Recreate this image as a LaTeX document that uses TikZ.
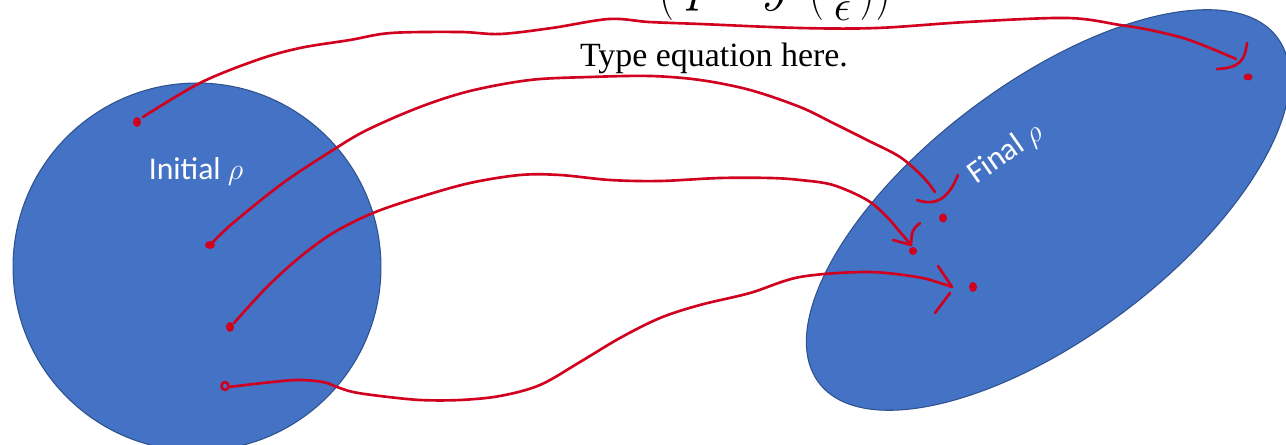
\documentclass[tikz,border=0pt]{standalone}
\usepackage{fontspec}
\newfontfamily\calibri{Carlito}
\newfontfamily\cambria{Liberation Serif}
\usetikzlibrary{shapes.geometric}

\definecolor{slideblue}{HTML}{4472C4}
\definecolor{slideedge}{HTML}{2F528F}
\definecolor{inkred}{RGB}{208,0,30}

\begin{document}
\begin{tikzpicture}[
		x=0.02cm, y=-0.02cm,
		% Regiones de densidad
		blob/.style={fill=slideblue, draw=slideedge, line width=0.6pt, inner sep=0pt},
		etiqueta/.style={text=white, font=\calibri\fontsize{18}{22}\selectfont, inner sep=0pt},
		% Trazos a mano
		ink/.style={draw=inkred, line width=1.5pt, line cap=round, line join=round},
		tinta/.style={ink, smooth, tension=0.55},
		punto/.style={fill=inkred}
		]
		
		\useasboundingbox (0,0) rectangle (1286,445);
		
		% --- TEXTO DE LA DIAPOSITIVA ---
		\node[anchor=base east, inner sep=0pt, font=\calibri\fontsize{34}{40}\selectfont] (cota) at (908,0)
			{exponential but can be solved in time $O\left(\;\mathit{poly}\;\left(\,\raisebox{-3pt}{$\frac{1}{\epsilon}$}\,\right)\right)$.};
		\node[anchor=base, inner sep=0pt, font=\cambria\fontsize{19.3}{23}\selectfont] (ecuacion) at (714,67) {Type equation here.};
		
		% --- DISTRIBUCIONES ---
		\node[blob, circle, minimum size=7.36cm] (inicial) at (197,267) {};
		\node[blob, ellipse, minimum width=11.48cm, minimum height=5.08cm, rotate=37] (final) at (1048,210) {};
		\node[etiqueta, anchor=base] (lblini) at (196,180) {Initial $\rho$};
		\node[etiqueta, rotate=35] (lblfin) at (1006,154) {Final $\rho$};
		
		% --- PUNTOS DE SALIDA Y LLEGADA ---
		\coordinate (s1) at (143,117);
		\coordinate (s2) at (213,242);
		\coordinate (s3) at (234,323);
		\coordinate (s4) at (229,387);
		\coordinate (t1) at (1236,59);
		\coordinate (t2) at (935,192);
		\coordinate (t3) at (911,245);
		\coordinate (t4) at (952,287);
		
		\fill[punto] (137,122) ellipse [x radius=4, y radius=5];
		\fill[punto] (210,245) ellipse [x radius=5, y radius=4];
		\fill[punto] (230,327) ellipse [x radius=4, y radius=5];
		\draw[ink] (225,386) ellipse [x radius=3.5, y radius=4];
		
		% --- TRAYECTORIAS ---
		\draw[tinta] plot coordinates {(s1) (200,83) (257,60) (300,48) (350,40) (391,33) (460,32) (500,34)
			(552,28) (609,19) (649,22) (700,24) (800,28) (877,28) (967,22) (1067,18) (1120,25) (1150,30)
			(1183,38) (1210,48) (t1)};
		\draw[tinta] plot coordinates {(s2) (233,223) (283,183) (333,150) (367,130) (420,107) (470,91)
			(530,80) (590,77) (650,76) (700,80) (750,90) (800,107) (833,123) (867,140) (900,157)
			(923,177) (t2)};
		\draw[tinta] plot coordinates {(s3) (267,287) (300,257) (333,233) (373,213) (420,197) (470,183)
			(520,175) (560,175) (610,180) (660,181) (720,178) (770,178) (800,180) (833,185) (867,200)
			(887,217) (900,232) (t3)};
		\draw[tinta] plot coordinates {(s4) (263,383) (297,380) (323,382) (337,387) (353,392) (380,396)
			(420,400) (460,400) (500,396) (540,385) (580,362) (620,338) (660,318) (700,305) (750,293)
			(800,277) (867,272) (917,277) (940,283) (t4)};
		
		% --- PUNTAS DE FLECHA ---
		\draw[ink] (1247,43) .. controls (1245,60) and (1240,68) .. (1217,69);
		\draw[ink] (958,175) .. controls (948,200) and (935,206) .. (917,200);
		\draw[ink] (920,223) .. controls (912,230) .. (t3) -- (893,240);
		\draw[ink] (938,266) -- (t4);
		\draw[ink] (950,293) -- (935,313);
		
		\fill[punto] (1248,77) ellipse [x radius=4.5, y radius=3.5];
		\fill[punto] (943,218) ellipse [x radius=4, y radius=4.5];
		\fill[punto] (913,251) ellipse [x radius=4, y radius=4];
		\fill[punto] (973,287) ellipse [x radius=4, y radius=5];
		
	\end{tikzpicture}
\end{document}
